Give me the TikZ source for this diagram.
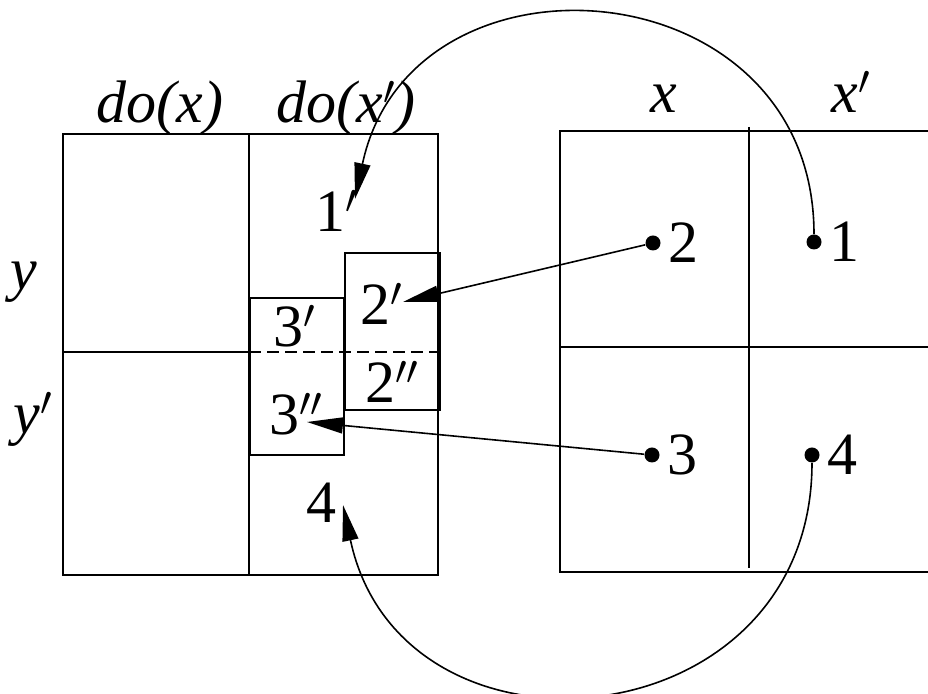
\documentclass[tikz,border=0pt]{standalone}
\usepackage{fontspec}
\setmainfont{Liberation Serif}
\usetikzlibrary{positioning,arrows.meta}
\tikzset{frame/.style={line width=1pt},dot/.style={circle,fill,inner sep=0pt,minimum size=7.5pt},lbl/.style={inner sep=0pt,font=\fontsize{30}{36}\selectfont},var/.style={lbl,font=\fontsize{30}{36}\selectfont\itshape},arr/.style={-{Triangle[length=18pt,width=8pt]},line width=0.8pt}}

\begin{document}
\begin{tikzpicture}[x=0.5pt,y=-0.5pt,node distance=3.5pt]
\useasboundingbox (0,0) rectangle (928,694);
% left table: do(x), do(x')
\draw[frame] (63,134) rectangle (438,575);
\draw[frame] (249,134) -- (249,575);
\draw[frame] (63,352) -- (249,352);
\draw[frame,dash pattern=on 6pt off 3pt] (249,352) -- (438,352);
\draw[frame] (250,298) rectangle (344,455);
\draw[frame] (345,253) rectangle (440,410);
% right table: x, x'
\draw[frame] (928,131) -- (560,131) -- (560,572) -- (928,572);
\draw[frame] (560,347) -- (928,347);
\draw[frame] (749,127) -- (749,568);
% headers
\node[var,anchor=base] (dox) at (160,123) {do(x)};
\node[var,anchor=base] (doxp) at (346,123) {do(x$'$)};
\node[var,anchor=base] (x) at (664,113) {x};
\node[var,anchor=base] (xp) at (851,113) {x$'$};
\node[var,anchor=base] (y) at (24,290) {y};
\node[var,anchor=base] (yp) at (33,434) {y$'$};
% units after intervention
\node[lbl,anchor=base west] (l1) at (315,232) {1$'$};
\node[lbl,anchor=base west] (l2p) at (360,325) {2$'$};
\node[lbl,anchor=base west] (l3p) at (273,347) {3$'$};
\node[lbl,anchor=base west] (l2pp) at (365,403) {2$''$};
\node[lbl,anchor=base west] (l3pp) at (269,435) {3$''$};
\node[lbl,anchor=base west] (l4) at (306,523) {4};
% observed units
\node[dot] (p1) at (814,242) {};
\node[lbl,right=of p1] (n1) {1};
\node[dot] (p2) at (653,243) {};
\node[lbl,right=of p2] (n2) {2};
\node[dot] (p3) at (652,455) {};
\node[lbl,right=of p3] (n3) {3};
\node[dot] (p4) at (812,455) {};
\node[lbl,right=of p4] (n4) {4};
\coordinate (t1) at (355,199);
\coordinate (t2) at (403,302);
\coordinate (t3) at (307,422);
\coordinate (t4) at (343,505);
\draw[arr] (p2) -- (t2);
\draw[arr] (p3) -- (t3);
\draw[arr] (p1) to[out=90,in=78,looseness=1.5] (t1);
\draw[arr] (p4) to[out=-90,in=-78,looseness=1.52] (t4);
\end{tikzpicture}
\end{document}
